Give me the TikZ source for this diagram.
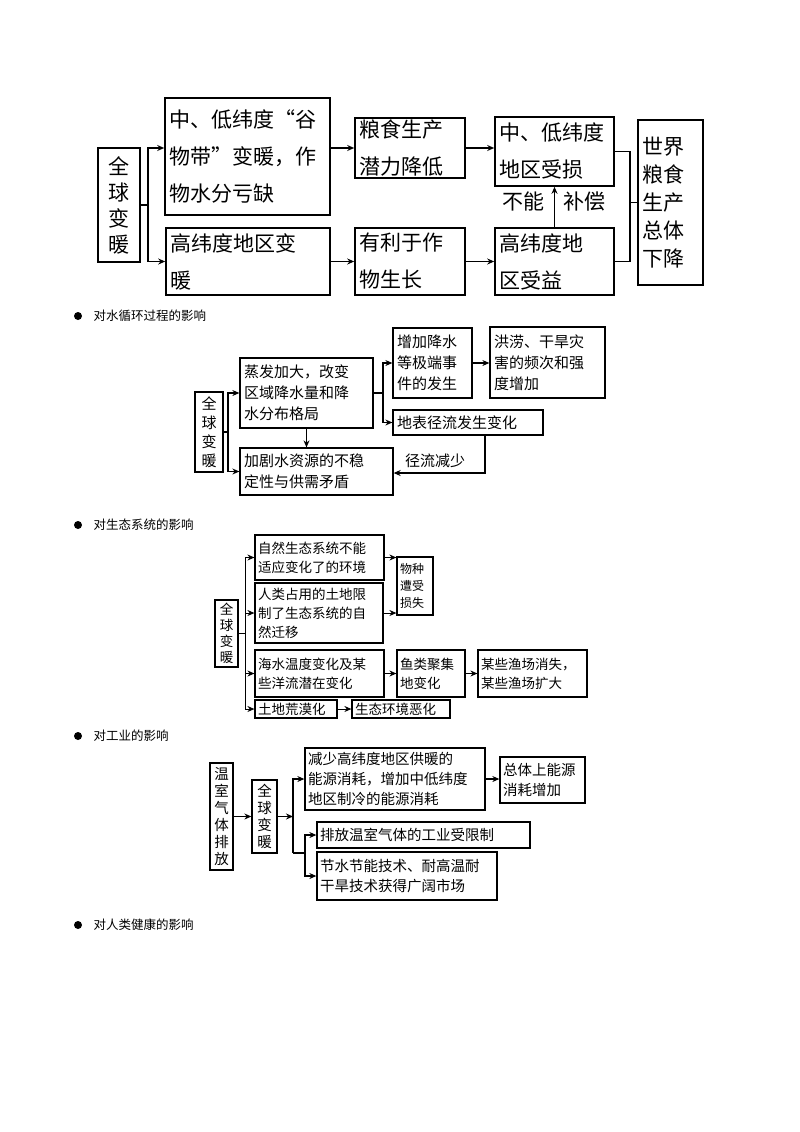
\documentclass[tikz,border=0pt]{standalone}
\usepackage{fontspec}
\setmainfont{Noto Sans CJK SC}
\usetikzlibrary{arrows.meta}
\begin{document}
\begin{tikzpicture}[x=1pt,y=-1pt,
 bx/.style={draw,line width=1.6pt,inner xsep=4pt,inner ysep=0pt,align=left},
 ln/.style={line width=1.4pt},
 arr/.style={line width=1.4pt,-{Stealth[length=7pt,width=6pt]}},
 bul/.style={circle,fill=black,inner sep=0pt,minimum size=8pt},
 btxt/.style={anchor=west,font=\fontsize{12.5}{14}\selectfont}]
\useasboundingbox (0,0) rectangle (800,1132);
% ---- diagram 1
\begin{scope}[font=\fontsize{21}{37}\selectfont]
\node[bx,minimum width=42pt,minimum height=114pt,text width=34pt,align=center,font=\fontsize{21}{26}\selectfont] (g1) at (119,205) {全\\球\\变\\暖};
\node[bx,minimum height=117pt,text width=157pt] (A) at (247.5,156.5) {中、低纬度“谷\\物带”变暖，作\\物水分亏缺};
\node[bx,minimum height=60pt,text width=102pt] (B) at (410,148) {粮食生产\\潜力降低};
\node[bx,minimum height=69pt,text width=111pt] (C) at (554.5,151.5) {中、低纬度\\地区受损};
\node[bx,minimum height=165pt,text width=57pt,font=\fontsize{21}{28}\selectfont] (D) at (670.5,202.5) {世界\\粮食\\生产\\总体\\下降};
\node[bx,minimum height=67pt,text width=156pt] (E) at (248,261.5) {高纬度地区变\\暖};
\node[bx,minimum height=67pt,text width=102pt] (F) at (410,261.5) {有利于作\\物生长};
\node[bx,minimum height=67pt,text width=111pt] (G) at (554.5,261.5) {高纬度地\\区受益};
\node (l1) at (523,201) {不能};
\node (l2) at (584,201) {补偿};
\end{scope}
\coordinate (b1) at (148,205);
\draw[ln] (g1.east) -- (b1);
\draw[arr] (b1) |- ([yshift=8.5pt]A.west);
\draw[arr] (b1) |- (E.west);
\draw[arr] (A.east |- B.west) -- (B.west);
\draw[arr] (B.east) -- (B.east -| C.west);
\draw[arr] (E.east) -- (F.west);
\draw[arr] (F.east) -- (G.west);
\draw[arr] (G.north) -- (C.south);
\coordinate (j1) at (630,202.5);
\draw[ln] (C.east) -| (j1) |- (G.east);
\draw[ln] (j1) -- (D.west);
% bullets
\node[bul] (p1) at (78,316) {};
\node[btxt] (t1) at (90,316) {对水循环过程的影响};
\node[bul] (p2) at (78,525) {};
\node[btxt] (t2) at (90,525) {对生态系统的影响};
\node[bul] (p3) at (78,736) {};
\node[btxt] (t3) at (90,736) {对工业的影响};
\node[bul] (p4) at (78,925) {};
\node[btxt] (t4) at (90,925) {对人类健康的影响};
% ---- diagram 2
\begin{scope}[font=\fontsize{15}{21}\selectfont, bx/.append style={line width=1.3pt}]
\node[bx,minimum height=80pt,text width=20pt,align=center,font=\fontsize{15}{19}\selectfont] (g2) at (209,432) {全\\球\\变\\暖};
\node[bx,minimum height=70pt,text width=125pt] (E2) at (306.5,393) {蒸发加大，改变\\区域降水量和降\\水分布格局};
\node[bx,minimum height=70pt,text width=71pt] (Z) at (432.5,363) {增加降水\\等极端事\\件的发生};
\node[bx,minimum height=71pt,text width=107pt] (H) at (547.5,362.5) {洪涝、干旱灾\\害的频次和强\\度增加};
\node[bx,minimum height=25pt,text width=142pt] (R) at (468,422.5) {地表径流发生变化};
\node[bx,minimum height=47pt,text width=145pt] (J) at (316.5,471.5) {加剧水资源的不稳\\定性与供需矛盾};
\node (l3) at (435,461) {径流减少};
\end{scope}
\begin{scope}[ln/.append style={line width=1.1pt},arr/.append style={line width=1.1pt}]
\coordinate (b2) at (228,432);
\draw[ln] (g2.east) -- (b2);
\draw[arr] (b2) |- (E2.west);
\draw[arr] (b2) |- (J.west);
\coordinate (b3) at (383,393);
\draw[ln] (E2.east) -- (b3);
\draw[arr] (b3) |- (Z.west);
\draw[arr] (b3) |- (R.west);
\draw[arr] (Z.east) -- (Z.east -| H.west);
\draw[arr] (E2.south) -- (J.north -| E2.south);
\coordinate (rk) at (485,473);
\draw[arr] (R.south -| rk) |- (J.east |- rk);
\end{scope}
% ---- diagram 3
\begin{scope}[font=\fontsize{13.5}{19}\selectfont, bx/.append style={line width=1.2pt,inner xsep=3pt}]
\node[bx,minimum height=67pt,text width=17pt,align=center,font=\fontsize{13.5}{16}\selectfont] (g3) at (226.5,633.5) {全\\球\\变\\暖};
\node[bx,minimum height=45pt,text width=123pt] (S1) at (319.5,557.5) {自然生态系统不能\\适应变化了的环境};
\node[bx,minimum height=60pt,text width=122pt] (S2) at (319,613) {人类占用的土地限\\制了生态系统的自\\然迁移};
\node[bx,minimum height=58pt,text width=30pt,font=\fontsize{12}{17}\selectfont] (W) at (415,586) {物种\\遭受\\损失};
\node[bx,minimum height=47pt,text width=123pt] (S3) at (319.5,673.5) {海水温度变化及某\\些洋流潜在变化};
\node[bx,minimum height=47pt,text width=62pt] (Y) at (431,673.5) {鱼类聚集\\地变化};
\node[bx,minimum height=47pt,text width=103pt] (M) at (532.5,673.5) {某些渔场消失，\\某些渔场扩大};
\node[bx,minimum height=18pt,text width=76pt] (T) at (296,709) {土地荒漠化};
\node[bx,minimum height=18pt,text width=92pt] (Q) at (401,709) {生态环境恶化};
\end{scope}
\begin{scope}[ln/.append style={line width=0.9pt},arr/.append style={line width=1pt}]
\coordinate (b4) at (245,633.5);
\draw[ln] (g3.east) -- (b4);
\draw[ln] (245,557.5) -- (245,709);
\draw[arr] (b4 |- S1.west) -- (S1.west);
\draw[arr] (b4 |- S2.west) -- (S2.west);
\draw[arr] (b4 |- S3.west) -- (S3.west);
\draw[arr] (b4 |- T.west) -- (T.west);
\draw[arr] ([yshift=0pt]S1.east) -- (S1.east -| W.west);
\draw[arr] (S2.east) -- (S2.east -| W.west);
\draw[arr] (S3.east) -- (Y.west);
\draw[arr] (Y.east) -- (M.west);
\draw[arr] (T.east) -- (Q.west);
\end{scope}
% ---- diagram 4
\begin{scope}[font=\fontsize{14.5}{20}\selectfont, bx/.append style={line width=1.3pt,inner xsep=3pt}]
\node[bx,minimum height=107pt,text width=17pt,align=center,font=\fontsize{14.5}{17}\selectfont] (G4a) at (221.5,816.5) {温\\室\\气\\体\\排\\放};
\node[bx,minimum height=73pt,text width=19pt,align=center,font=\fontsize{14.5}{17}\selectfont] (G4b) at (264.5,816.5) {全\\球\\变\\暖};
\node[bx,minimum height=62pt,text width=174pt] (K) at (395,779) {减少高纬度地区供暖的\\能源消耗，增加中低纬度\\地区制冷的能源消耗};
\node[bx,minimum height=46pt,text width=79pt] (Z4) at (542.5,780) {总体上能源\\消耗增加};
\node[bx,minimum height=26pt,text width=207pt] (P) at (423.5,835) {排放温室气体的工业受限制};
\node[bx,minimum height=48pt,text width=174pt] (N) at (407,876) {节水节能技术、耐高温耐\\干旱技术获得广阔市场};
\end{scope}
\begin{scope}[ln/.append style={line width=1.1pt},arr/.append style={line width=1.1pt}]
\draw[arr] (G4a.east) -- (G4b.west);
\coordinate (b5) at (293,816.5);
\draw[arr] (G4b.east) -- (b5);
\draw[ln] (b5) -- (293,853);
\draw[arr] (b5) |- (K.west);
\coordinate (b6) at (305,853);
\draw[ln] (293,853) -- (b6);
\draw[arr] (b6) |- (P.west);
\draw[arr] (b6) |- (N.west);
\draw[arr] (K.east) -- (K.east -| Z4.west);
\end{scope}
\end{tikzpicture}
\end{document}
